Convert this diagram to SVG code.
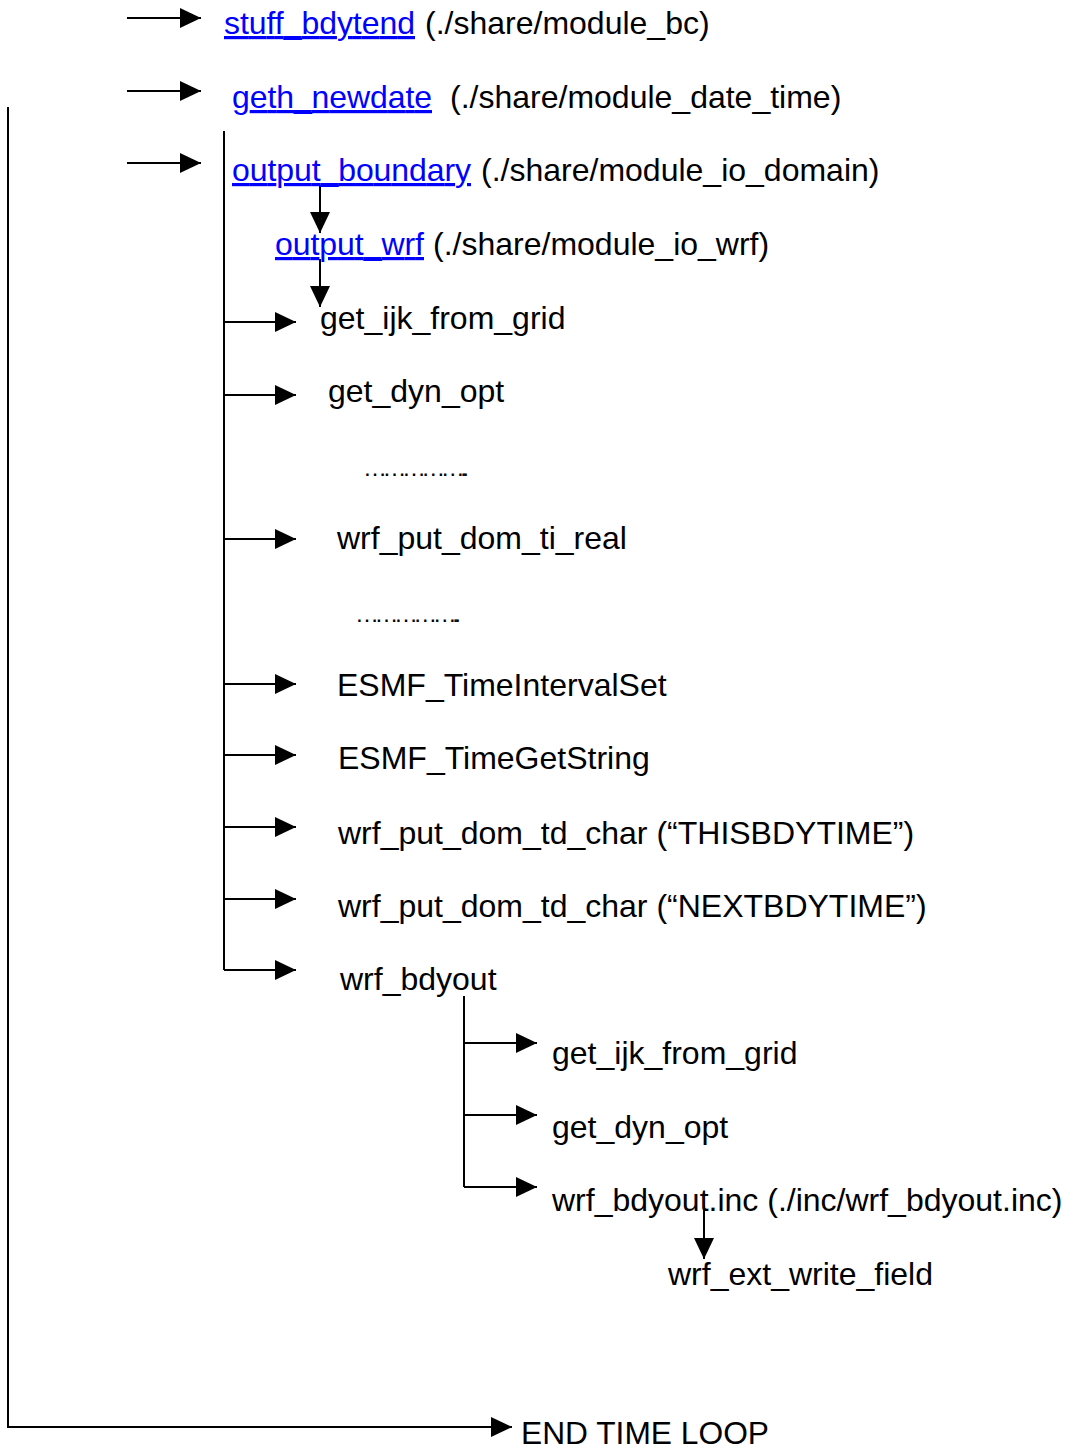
<svg xmlns="http://www.w3.org/2000/svg" width="1065" height="1452" viewBox="0 0 1065 1452">
<defs>
<marker id="ah" markerUnits="userSpaceOnUse" markerWidth="22" markerHeight="22" viewBox="0 0 22 22" refX="21" refY="11" orient="auto"><path d="M0,1 L21,11 L0,21 Z" fill="#000"/></marker>
<style>
text{font-family:"Liberation Sans",Arial,sans-serif;font-size:32px;fill:#000}
.lk{fill:#0000ff;text-decoration:underline}
.c{fill:none;stroke:#000;stroke-width:2}
.a{fill:none;stroke:#000;stroke-width:2;marker-end:url(#ah)}
.dots{font-size:24px}
</style>
</defs>
<rect width="1065" height="1452" fill="#fff"/>
<g id="connectors">
<path class="a" d="M127,18 H201"/>
<path class="a" d="M127,91 H201"/>
<path class="a" d="M127,163 H201"/>
<path class="a" d="M8,107 V1427 H512"/>
<path class="c" d="M224,131 V970"/>
<path class="a" d="M224,322 H296"/>
<path class="a" d="M224,395 H296"/>
<path class="a" d="M224,539 H296"/>
<path class="a" d="M224,684 H296"/>
<path class="a" d="M224,755 H296"/>
<path class="a" d="M224,827 H296"/>
<path class="a" d="M224,899 H296"/>
<path class="a" d="M224,970 H296"/>
<path class="a" d="M320,186 V233"/>
<path class="a" d="M320,259 V307"/>
<path class="c" d="M464,996 V1187"/>
<path class="a" d="M464,1043 H537"/>
<path class="a" d="M464,1115 H537"/>
<path class="a" d="M464,1187 H537"/>
<path class="a" d="M704,1205 V1259"/>
</g>
<g id="stuff_bdytend"><text x="224" y="34"><tspan class="lk" textLength="191">stuff_bdytend</tspan></text><text x="425" y="34">(./share/module_bc)</text></g>
<g id="geth_newdate"><text x="232" y="108"><tspan class="lk" textLength="200">geth_newdate</tspan></text><text x="450" y="108">(./share/module_date_time)</text></g>
<g id="output_boundary"><text x="232" y="181"><tspan class="lk" textLength="239">output_boundary</tspan></text><text x="481" y="181">(./share/module_io_domain)</text></g>
<g id="output_wrf"><text x="275" y="255"><tspan class="lk" textLength="149">output_wrf</tspan></text><text x="433" y="255">(./share/module_io_wrf)</text></g>
<g id="get_ijk_from_grid"><text x="320" y="329">get_ijk_from_grid</text></g>
<g id="get_dyn_opt"><text x="328" y="402">get_dyn_opt</text></g>
<g id="dots1"><text class="dots" x="363" y="476" textLength="106">……………..</text></g>
<g id="wrf_put_dom_ti_real"><text x="337" y="549">wrf_put_dom_ti_real</text></g>
<g id="dots2"><text class="dots" x="355" y="622" textLength="106">……………..</text></g>
<g id="ESMF_TimeIntervalSet"><text x="337" y="696">ESMF_TimeIntervalSet</text></g>
<g id="ESMF_TimeGetString"><text x="338" y="769">ESMF_TimeGetString</text></g>
<g id="wrf_put_this"><text x="338" y="844">wrf_put_dom_td_char (“THISBDYTIME”)</text></g>
<g id="wrf_put_next"><text x="338" y="917">wrf_put_dom_td_char (“NEXTBDYTIME”)</text></g>
<g id="wrf_bdyout"><text x="340" y="990">wrf_bdyout</text></g>
<g id="get_ijk_from_grid2"><text x="552" y="1064">get_ijk_from_grid</text></g>
<g id="get_dyn_opt2"><text x="552" y="1138">get_dyn_opt</text></g>
<g id="wrf_bdyout_inc"><text x="552" y="1211">wrf_bdyout.inc (./inc/wrf_bdyout.inc)</text></g>
<g id="wrf_ext_write_field"><text x="668" y="1285">wrf_ext_write_field</text></g>
<g id="end_time_loop"><text x="521" y="1444" style="font-size:32px" textLength="248" lengthAdjust="spacingAndGlyphs">END TIME LOOP</text></g>
</svg>
